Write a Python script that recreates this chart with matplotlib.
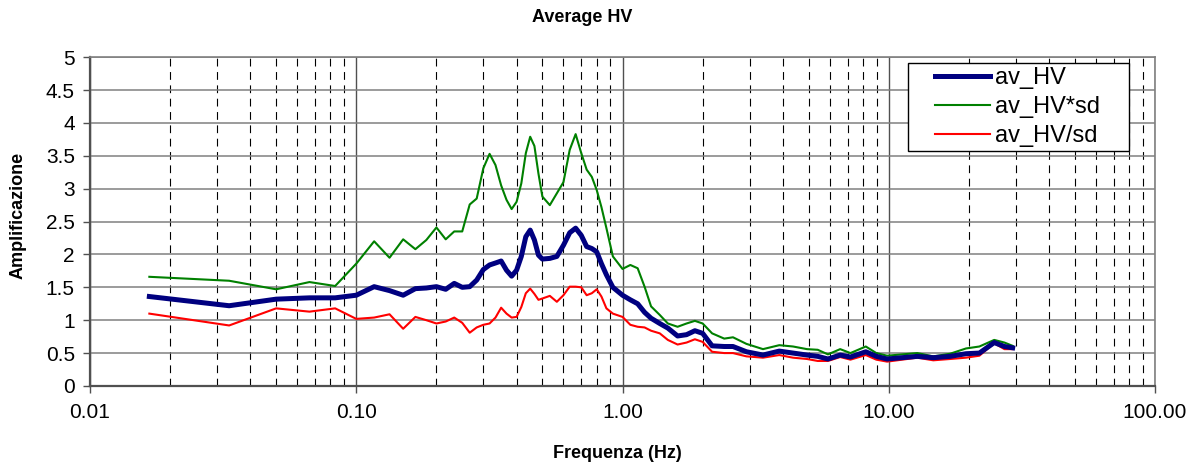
import matplotlib.pyplot as plt
from matplotlib.legend_handler import HandlerLine2D
from matplotlib.lines import Line2D
from matplotlib.ticker import FixedLocator, LogLocator, NullFormatter

plt.rcParams['font.family'] = ['Liberation Sans', 'DejaVu Sans']

freq = [0.0167, 0.0333, 0.05, 0.0667, 0.0833, 0.1, 0.1167, 0.1333, 0.15, 0.1667,
        0.1833, 0.2, 0.2167, 0.2333, 0.25, 0.2667, 0.2833, 0.3, 0.3167, 0.3333,
        0.35, 0.3667, 0.3833, 0.4, 0.4167, 0.4333, 0.45, 0.4667, 0.4833, 0.5,
        0.5333, 0.5667, 0.6, 0.6333, 0.6667, 0.7, 0.7333, 0.7667, 0.8, 0.8333,
        0.87, 0.92, 1.0, 1.07, 1.14, 1.21, 1.28, 1.38, 1.48, 1.61,
        1.74, 1.87, 2.0, 2.17, 2.41, 2.6, 2.92, 3.37, 3.88, 4.37,
        4.93, 5.41, 5.91, 6.57, 7.18, 8.2, 8.98, 9.86, 12.8, 14.7,
        17.0, 19.5, 21.9, 24.9, 27.2, 29.2]

av_hv = [1.36, 1.22, 1.32, 1.34, 1.34, 1.38, 1.51, 1.45, 1.38, 1.48,
         1.49, 1.51, 1.47, 1.56, 1.50, 1.51, 1.61, 1.77, 1.84, 1.87,
         1.90, 1.76, 1.67, 1.76, 1.97, 2.27, 2.37, 2.22, 1.99, 1.93,
         1.94, 1.97, 2.14, 2.33, 2.40, 2.29, 2.12, 2.09, 2.04, 1.86,
         1.69, 1.50, 1.38, 1.31, 1.25, 1.12, 1.03, 0.95, 0.88, 0.76,
         0.78, 0.84, 0.80, 0.61, 0.60, 0.60, 0.52, 0.47, 0.53, 0.50,
         0.47, 0.45, 0.41, 0.47, 0.44, 0.52, 0.45, 0.41, 0.45, 0.43,
         0.45, 0.49, 0.50, 0.66, 0.60, 0.58]

av_hv_times_sd = [1.66, 1.60, 1.47, 1.58, 1.52, 1.86, 2.20, 1.95, 2.23, 2.08,
                  2.22, 2.41, 2.23, 2.35, 2.35, 2.76, 2.85, 3.31, 3.53, 3.36,
                  3.05, 2.83, 2.69, 2.80, 3.08, 3.54, 3.79, 3.65, 3.23, 2.88,
                  2.75, 2.93, 3.10, 3.59, 3.83, 3.54, 3.29, 3.18, 2.98, 2.72,
                  2.40, 1.97, 1.78, 1.84, 1.79, 1.51, 1.21, 1.08, 0.95, 0.90,
                  0.95, 0.99, 0.95, 0.80, 0.72, 0.74, 0.64, 0.56, 0.62, 0.60,
                  0.56, 0.55, 0.48, 0.56, 0.50, 0.60, 0.50, 0.46, 0.50, 0.45,
                  0.49, 0.57, 0.60, 0.70, 0.66, 0.61]

av_hv_div_sd = [1.10, 0.92, 1.18, 1.13, 1.18, 1.02, 1.04, 1.09, 0.87, 1.05,
                1.00, 0.95, 0.98, 1.04, 0.96, 0.81, 0.89, 0.93, 0.95, 1.04,
                1.19, 1.10, 1.04, 1.05, 1.20, 1.41, 1.48, 1.40, 1.31, 1.33,
                1.37, 1.28, 1.38, 1.51, 1.51, 1.50, 1.38, 1.41, 1.47, 1.36,
                1.18, 1.10, 1.05, 0.93, 0.90, 0.89, 0.84, 0.80, 0.70, 0.63,
                0.66, 0.71, 0.67, 0.52, 0.50, 0.50, 0.45, 0.43, 0.47, 0.43,
                0.41, 0.38, 0.38, 0.44, 0.40, 0.47, 0.40, 0.37, 0.43, 0.39,
                0.41, 0.43, 0.46, 0.65, 0.56, 0.56]

x_ticks = [0.01, 0.1, 1, 10, 100]
x_ticklabels = ['0.01', '0.10', '1.00', '10.00', '100.00']
y_ticks = [0, 0.5, 1, 1.5, 2, 2.5, 3, 3.5, 4, 4.5, 5]
y_ticklabels = ['0', '0.5', '1', '1.5', '2', '2.5', '3', '3.5', '4', '4.5', '5']

fig = plt.figure(figsize=(11.96, 4.65), dpi=100)
ax = fig.add_axes([0.0753, 0.170, 0.8904, 0.707])

ax.plot(freq, av_hv, color='#000080', lw=3.6, label='av_HV', zorder=4)
ax.plot(freq, av_hv_times_sd, color='#008000', lw=1.5, label='av_HV*sd', zorder=3)
ax.plot(freq, av_hv_div_sd, color='#ff0000', lw=1.5, label='av_HV/sd', zorder=3)

ax.set_xscale('log')
ax.set_xlim(0.01, 100)
ax.set_ylim(0, 5)
ax.xaxis.set_major_locator(FixedLocator(x_ticks))
ax.set_xticklabels(x_ticklabels)
ax.xaxis.set_minor_locator(LogLocator(base=10, subs=range(2, 10)))
ax.xaxis.set_minor_formatter(NullFormatter())
ax.set_yticks(y_ticks)
ax.set_yticklabels(y_ticklabels)

ax.grid(axis='y', which='major', color='#808080', lw=1.1, ls='-')
ax.grid(axis='x', which='major', color='#505050', lw=1.0, ls='-')
ax.grid(axis='x', which='minor', color='black', lw=0.8, ls=(0, (7, 5)))
ax.set_axisbelow(True)

for s in ax.spines.values():
    s.set_color('#808080')
    s.set_linewidth(1.2)
ax.spines['left'].set_color('#505050')
ax.spines['left'].set_linewidth(1.6)
ax.spines['bottom'].set_color('#505050')
ax.spines['bottom'].set_linewidth(1.6)

ax.tick_params(axis='both', which='major', labelsize=15, length=5, color='#505050', width=1)
ax.tick_params(axis='x', which='major', pad=7)
ax.tick_params(axis='y', which='major', pad=6)
ax.tick_params(axis='x', which='minor', length=0)

fig.text(582 / 1196, 1 - 17 / 465, 'Average HV', fontsize=13, fontweight='bold',
         ha='center', va='center')
fig.text(617 / 1196, 1 - 453 / 465, 'Frequenza (Hz)', fontsize=13, fontweight='bold',
         ha='center', va='center')
fig.text(18 / 1196, 1 - 215 / 465, 'Amplificazione', fontsize=13, fontweight='bold',
         ha='center', va='center', rotation=90)

# legend: fixed width box, handles pushed in from the left edge
leg = ax.legend(loc='upper left', bbox_to_anchor=(0.7681, 0.9818, 0.2075, 0.0),
                mode='expand', borderaxespad=0, fontsize=17, fancybox=False,
                framealpha=1, edgecolor='black', handlelength=3.3, handletextpad=0.2,
                borderpad=0.17, labelspacing=0.3,
                handler_map={Line2D: HandlerLine2D(xpad=0.97)})
leg.get_frame().set_linewidth(1.0)

fig.savefig('out.png', dpi=100)
